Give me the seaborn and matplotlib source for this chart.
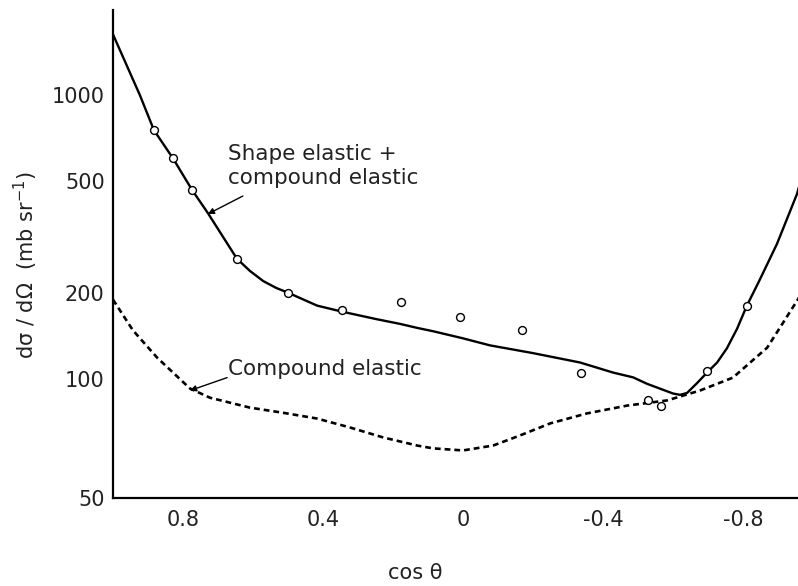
import numpy as np
import pandas as pd
import matplotlib
matplotlib.use("Agg")
import matplotlib.pyplot as plt
from matplotlib.ticker import FixedLocator, FixedFormatter, NullLocator
import seaborn as sns

# ---- data ----
solid_cos = [1.0, 0.923, 0.883, 0.829, 0.774, 0.729, 0.646, 0.609, 0.571, 0.534, 0.50,
             0.417, 0.343, 0.246, 0.18, 0.131, 0.086, 0.003, -0.077, -0.2, -0.334,
             -0.429, -0.486, -0.526, -0.60, -0.62, -0.64, -0.669, -0.697, -0.726,
             -0.754, -0.783, -0.811, -0.846, -0.897, -0.954, -0.965]
solid_val = [1640, 1000, 753, 600, 463, 384, 265, 240, 221, 209, 201,
             181, 172, 162, 156, 151, 147, 139, 131, 123, 114,
             105, 101, 97, 91.7, 91, 92, 97.5, 105, 114,
             128, 150, 181, 221, 299, 448, 500]

dash_cos = [1.0, 0.943, 0.874, 0.78, 0.723, 0.609, 0.514, 0.417, 0.323, 0.229, 0.131,
            0.086, 0.0, -0.086, -0.163, -0.249, -0.354, -0.469, -0.583, -0.677,
            -0.771, -0.869, -0.954, -0.965]
dash_val = [190, 148, 118.6, 94.4, 89.5, 84.5, 82, 79.3, 75.3, 71.1, 67.8,
            66.7, 65.9, 67.8, 71.9, 77.1, 81.7, 85.5, 88.1, 93.3,
            100.8, 128.6, 188, 198]

pts_cos = [0.883, 0.829, 0.774, 0.646, 0.50, 0.346, 0.177, 0.009, -0.169, -0.337,
           -0.529, -0.566, -0.697, -0.811]
pts_val = [753, 600, 463, 265, 201, 175, 187, 165, 148, 105,
           88.5, 85.5, 106, 181]

y_ticks = [50, 100, 200, 500, 1000, 2000]
y_ticklabels = ["50", "100", "200", "500", "1000", ""]
x_ticks = [0.8, 0.4, 0.0, -0.4, -0.8]
x_ticklabels = ["0.8", "0.4", "0", "-0.4", "-0.8"]
x_minor = [0.6, 0.2, -0.2, -0.6]

solid_df = pd.DataFrame({"cos": solid_cos, "val": solid_val})
dash_df = pd.DataFrame({"cos": dash_cos, "val": dash_val})
pts_df = pd.DataFrame({"cos": pts_cos, "val": pts_val})

sns.set_theme(style="white")
plt.rcParams["font.family"] = ["DejaVu Sans"]

W, H = 798, 586
fig = plt.figure(figsize=(W / 100, H / 100), dpi=100)
ax = fig.add_axes([113 / W, 1 - 498 / H, (798 - 113) / W, 488 / H])

sns.lineplot(data=solid_df, x="cos", y="val", ax=ax, color="black", lw=1.7,
             sort=False, estimator=None)
sns.lineplot(data=dash_df, x="cos", y="val", ax=ax, color="black", lw=1.9,
             sort=False, estimator=None, linestyle=(0, (2.2, 1.5)))
sns.scatterplot(data=pts_df, x="cos", y="val", ax=ax, marker="o", s=32,
                facecolor="white", edgecolor="black", linewidth=1.0, zorder=5)

# log axis whose lowest segment (50-100) is stretched, as in the printed figure
K = 1.4
def fwd(y):
    y = np.asarray(y, dtype=float)
    l = np.log10(np.clip(y, 1e-6, None))
    return np.where(l >= 2, l, 2 - (2 - l) * K)

def inv(t):
    t = np.asarray(t, dtype=float)
    return np.where(t >= 2, 10.0 ** t, 10.0 ** (2 - (2 - t) / K))

ax.set_yscale("function", functions=(fwd, inv))
ax.set_ylim(50, 2000)
ax.set_xlim(1.0, -0.957)

ax.yaxis.set_major_locator(FixedLocator(y_ticks))
ax.yaxis.set_major_formatter(FixedFormatter(y_ticklabels))
ax.yaxis.set_minor_locator(NullLocator())
ax.xaxis.set_major_locator(FixedLocator(x_ticks))
ax.xaxis.set_major_formatter(FixedFormatter(x_ticklabels))
ax.xaxis.set_minor_locator(FixedLocator(x_minor))

ax.tick_params(axis="both", which="both", direction="in", color="black",
               width=1.2, length=5, labelsize=15, labelcolor="#222222")
ax.tick_params(axis="y", pad=6)
ax.tick_params(axis="x", pad=9)
ax.tick_params(axis="x", which="minor", length=4)

for s in ["top", "right"]:
    ax.spines[s].set_visible(False)
for s in ["left", "bottom"]:
    ax.spines[s].set_color("black")
    ax.spines[s].set_linewidth(1.6)

ax.set_xlabel("cos θ", fontsize=15, color="#222222")
ax.xaxis.set_label_coords(0.441, -0.133)
ax.set_ylabel("dσ / dΩ  (mb sr$^{-1}$)", fontsize=15, color="#222222")
ax.yaxis.set_label_coords(-0.106, 0.477)

ax.text(0.671, 620, "Shape elastic +", fontsize=15.5,
        ha="left", va="center", color="#222222")
ax.text(0.671, 511, "compound elastic", fontsize=15.5,
        ha="left", va="center", color="#222222")
ax.annotate("", xy=(0.729, 381), xytext=(0.629, 441),
            arrowprops=dict(arrowstyle="-|>", color="black", lw=1.0,
                            mutation_scale=9, shrinkA=0, shrinkB=0))

ax.text(0.671, 108, "Compound elastic", fontsize=15.5, ha="left", va="center",
        color="#222222")
ax.annotate("", xy=(0.78, 93.3), xytext=(0.674, 100.8),
            arrowprops=dict(arrowstyle="-|>", color="black", lw=1.0,
                            mutation_scale=9, shrinkA=0, shrinkB=0))

fig.savefig("out.png", dpi=100)
